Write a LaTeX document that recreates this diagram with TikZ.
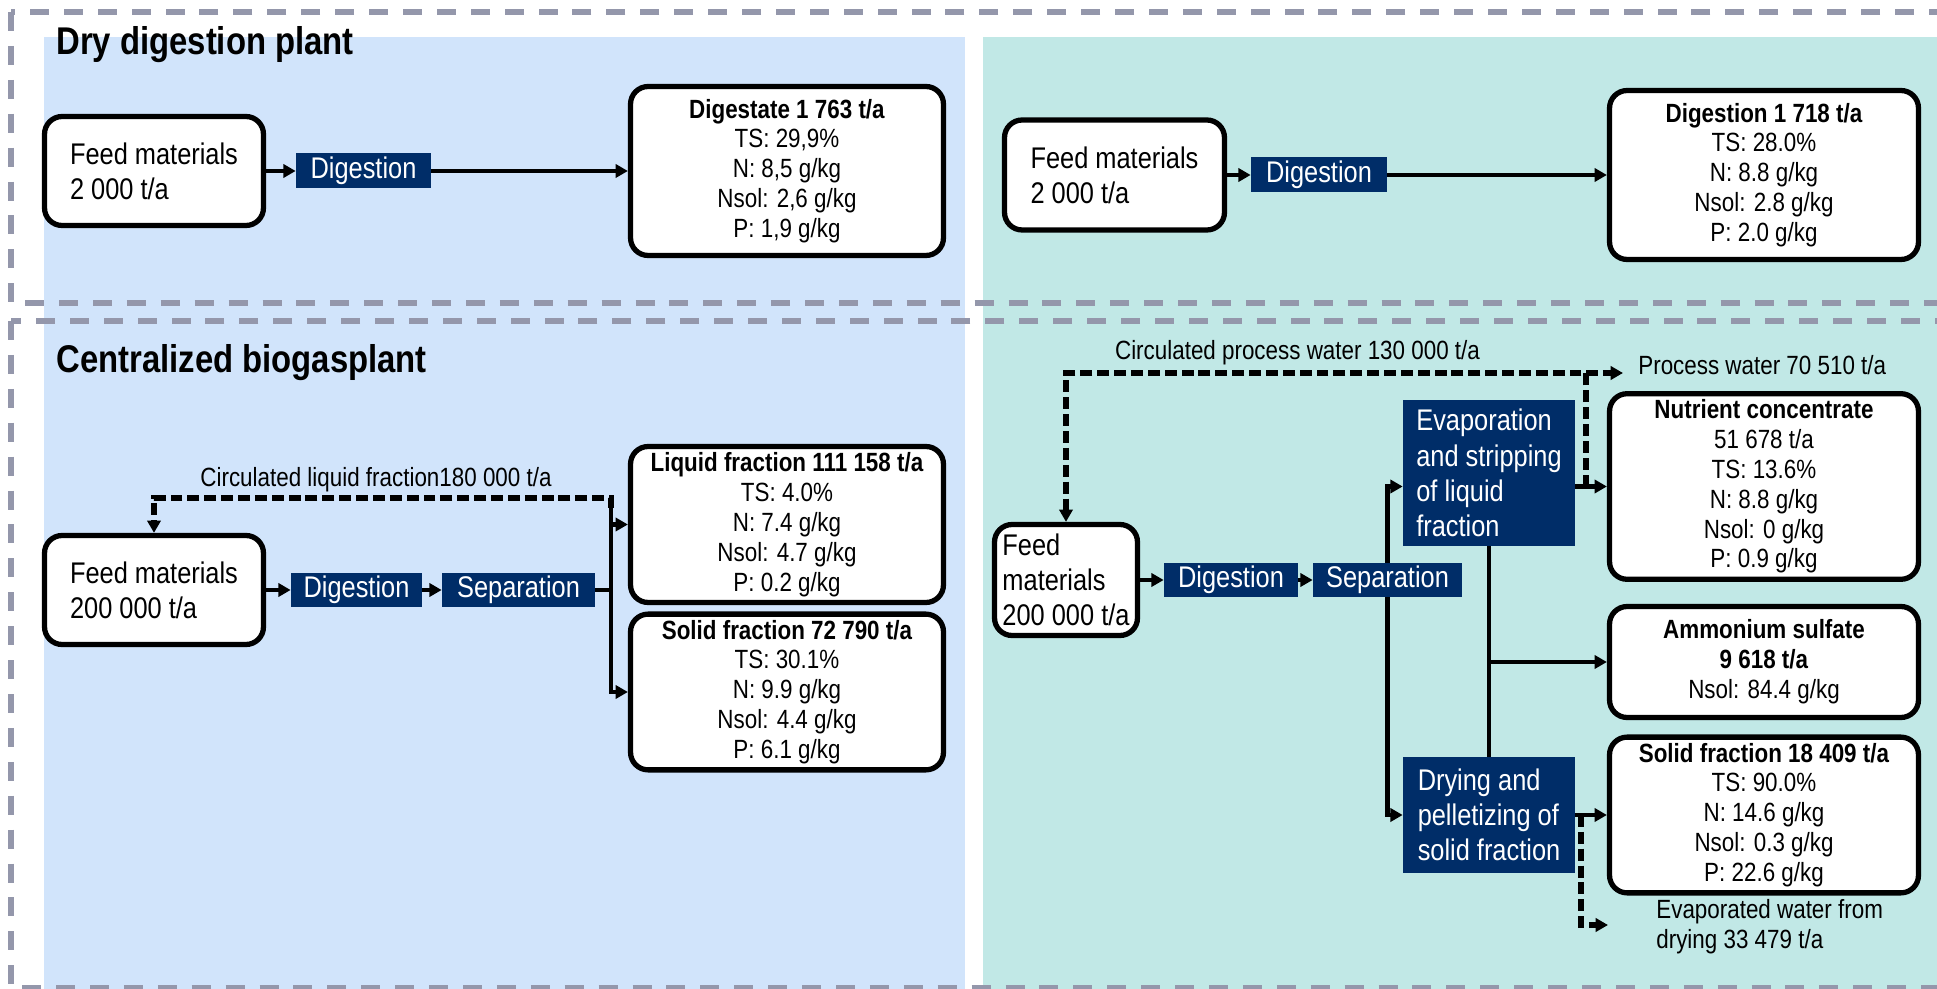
\documentclass[tikz,border=0pt]{standalone}
\usepackage{fontspec}
\setmainfont{Liberation Sans}[FakeStretch=0.85]
\usetikzlibrary{arrows.meta,positioning}
\definecolor{panelBlue}{RGB}{209,228,251}
\definecolor{panelTeal}{RGB}{193,232,230}
\definecolor{stepNavy}{RGB}{0,45,104}
\definecolor{frameGray}{RGB}{148,151,171}

\begin{document}
\begin{tikzpicture}[x=0.02cm,y=-0.02cm,
    box/.style={draw,line width=3pt,rounded corners=10pt,fill=white,align=center,
      font=\fontsize{15}{17}\selectfont},
    feedbox/.style={draw,line width=3pt,rounded corners=10pt,fill=white,align=left,
      font=\fontsize{17}{19.8}\selectfont},
    proc/.style={fill=stepNavy,text=white,inner sep=0pt,align=left,
      font=\fontsize{17}{20}\selectfont},
    flow/.style={line width=2.7pt,-{Triangle[length=7pt,width=7.5pt]}},
    link/.style={line width=2.7pt},
    recyc/.style={line width=2.9pt,dash pattern=on 6.8pt off 2.8pt,
      -{Triangle[length=7pt,width=7.5pt]}},
    panelframe/.style={frameGray,line width=3.2pt,dash pattern=on 10.8pt off 8.5pt},
    note/.style={inner sep=0pt,font=\fontsize{15}{17}\selectfont},
    heading/.style={inner sep=0pt,anchor=base west,font=\fontsize{22}{26}\selectfont\bfseries}]
  \useasboundingbox (0,0) rectangle (1937,989);

  % panels and frames
  \fill[panelBlue] (44,37) rectangle (965,989);
  \fill[panelTeal] (983,37) rectangle (1937,989);
  \draw[panelframe] (11,12) rectangle (1960,303);
  \draw[panelframe] (11,321) rectangle (1960,988);

  \node[heading] (dryTitle) at (56,55) {Dry digestion plant};
  \node[heading] (cbpTitle) at (56,373) {Centralized biogasplant};

  % dry digestion, left
  \node[feedbox,minimum width=4.38cm,minimum height=2.18cm] (feedA) at (154,171) {Feed materials\\2 000 t/a};
  \node[proc,minimum width=2.70cm,minimum height=0.70cm] (digA) at (363.5,171) {Digestion};
  \node[box,minimum width=6.26cm,minimum height=3.38cm] (outA) at (787,171)
    {\textbf{Digestate 1 763 t/a}\\TS: 29,9\%\\N: 8,5 g/kg\\Nsol: 2,6 g/kg\\P: 1,9 g/kg};
  \draw[flow] (feedA) -- (digA);
  \draw[flow] (digA) -- (outA);

  % dry digestion, right
  \node[feedbox,minimum width=4.40cm,minimum height=2.20cm] (feedB) at (1114.5,175) {Feed materials\\2 000 t/a};
  \node[proc,minimum width=2.72cm,minimum height=0.70cm] (digB) at (1319,175) {Digestion};
  \node[box,minimum width=6.18cm,minimum height=3.38cm] (outB) at (1764,175)
    {\textbf{Digestion 1 718 t/a}\\TS: 28.0\%\\N: 8.8 g/kg\\Nsol: 2.8 g/kg\\P: 2.0 g/kg};
  \draw[flow] (feedB) -- (digB);
  \draw[flow] (digB) -- (outB);

  % centralized plant, left
  \node[feedbox,minimum width=4.38cm,minimum height=2.18cm] (feedC) at (154,590) {Feed materials\\200 000 t/a};
  \node[proc,minimum width=2.62cm,minimum height=0.68cm] (digC) at (356.5,590) {Digestion};
  \node[proc,minimum width=3.06cm,minimum height=0.68cm] (sepC) at (518.5,590) {Separation};
  \node[box,minimum width=6.26cm,minimum height=3.12cm] (liqC) at (787,524.5)
    {\textbf{Liquid fraction 111 158 t/a}\\TS: 4.0\%\\N: 7.4 g/kg\\Nsol: 4.7 g/kg\\P: 0.2 g/kg};
  \node[box,minimum width=6.26cm,minimum height=3.10cm] (solC) at (787,692)
    {\textbf{Solid fraction 72 790 t/a}\\TS: 30.1\%\\N: 9.9 g/kg\\Nsol: 4.4 g/kg\\P: 6.1 g/kg};
  \coordinate (splitC) at (611,508);
  \draw[flow] (feedC) -- (digC);
  \draw[flow] (digC) -- (sepC);
  \draw[link] (sepC.east) -- (sepC.east -| splitC);
  \draw[flow] (splitC) |- (solC.west);
  \draw[flow] (splitC |- liqC.west) -- (liqC.west);
  \draw[recyc] (splitC) -- ++(0,-10) -| (feedC.north);
  \node[note,anchor=base] (circL) at (376,487) {Circulated liquid fraction180 000 t/a};

  % centralized plant, right
  \node[feedbox,minimum width=2.86cm,minimum height=2.22cm] (feedD) at (1066,580) {Feed\\materials\\200 000 t/a};
  \node[proc,minimum width=2.68cm,minimum height=0.68cm] (digD) at (1231,580) {Digestion};
  \node[proc,minimum width=2.98cm,minimum height=0.68cm] (sepD) at (1387.5,580) {Separation};
  \node[proc,minimum width=3.44cm,minimum height=2.92cm] (evap) at (1489,473)
    {Evaporation\\and stripping\\of liquid\\fraction};
  \node[proc,minimum width=3.44cm,minimum height=2.32cm] (dry) at (1489,815)
    {Drying and\\pelletizing of\\solid fraction};
  \node[box,minimum width=6.18cm,minimum height=3.64cm] (nutr) at (1764,486.5)
    {\textbf{Nutrient concentrate}\\51 678 t/a\\TS: 13.6\%\\N: 8.8 g/kg\\Nsol: 0 g/kg\\P: 0.9 g/kg};
  \node[box,minimum width=6.18cm,minimum height=2.22cm] (amm) at (1764,662)
    {\textbf{Ammonium sulfate}\\\textbf{9 618 t/a}\\Nsol: 84.4 g/kg};
  \node[box,minimum width=6.18cm,minimum height=3.10cm] (solD) at (1764,815)
    {\textbf{Solid fraction 18 409 t/a}\\TS: 90.0\%\\N: 14.6 g/kg\\Nsol: 0.3 g/kg\\P: 22.6 g/kg};
  \draw[flow] (feedD) -- (digD);
  \draw[flow] (digD) -- (sepD);
  \draw[flow] (sepD.north) |- (evap.west |- nutr.west);
  \draw[flow] (sepD.south) |- (dry.west);
  \draw[flow] (evap.east |- nutr.west) -- (nutr.west);
  \draw[link] (evap.south) -- (dry.north);
  \draw[flow] (evap.south |- amm.west) -- (amm.west);
  \draw[flow] (dry) -- (solD);

  % process water loop
  \coordinate (wsplit) at (1586,373);
  \coordinate (pwtip) at (1623,373);
  \draw[recyc] (wsplit |- nutr.west) -- (wsplit) -| (feedD.north);
  \draw[recyc] (wsplit) -- (pwtip);
  \node[note,anchor=base] (circP) at (1297.5,360) {Circulated process water 130 000 t/a};
  \node[note,anchor=base west] (pwl) at (1638,375) {Process water 70 510 t/a};

  % evaporated water
  \coordinate (dsplit) at (1581,815);
  \coordinate (evtip) at (1608,925);
  \draw[recyc] (dsplit) |- (evtip);
  \node[note,anchor=north west,align=left] (evl) at (1656,899) {Evaporated water from\\drying 33 479 t/a};
\end{tikzpicture}
\end{document}
